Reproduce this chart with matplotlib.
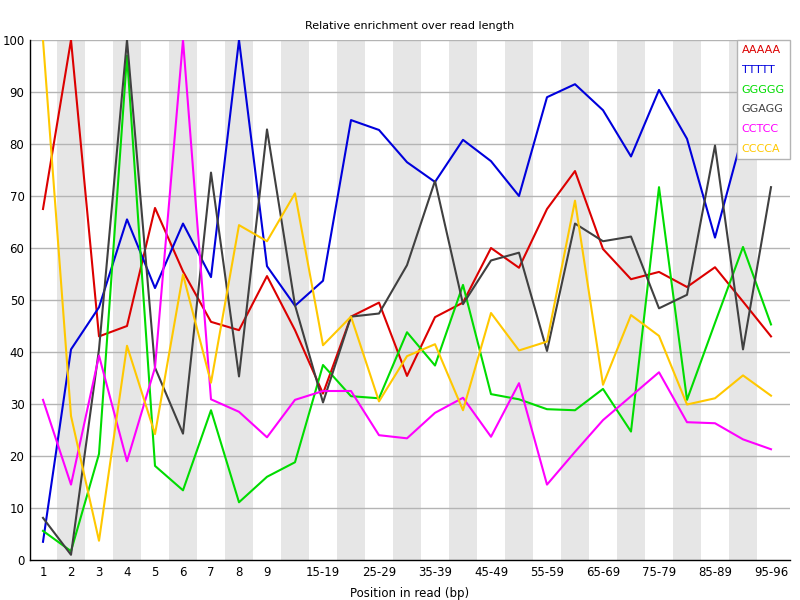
import numpy as np
import matplotlib
matplotlib.use('agg')
import matplotlib.pyplot as plt

#x categories (position in read)
positions = ['1', '2', '3', '4', '5', '6', '7', '8', '9',
	'10-14', '15-19', '20-24', '25-29', '30-34', '35-39', '40-44', '45-49',
	'50-54', '55-59', '60-64', '65-69', '70-74', '75-79', '80-84', '85-89',
	'90-94', '95-96']

#relative enrichment for each kmer
aaaaa = [67.5, 100, 43.0, 45.0, 67.7, 55.5, 45.8, 44.2, 54.6, 44.2, 32.0, 46.8, 49.5, 35.4,
	46.7, 49.5, 60.0, 56.2, 67.5, 74.8, 59.8, 54.0, 55.4, 52.5, 56.3, 49.7, 43.0]
ttttt = [3.5, 40.5, 48.6, 65.5, 52.3, 64.7, 54.4, 100, 56.5, 48.9, 53.7, 84.6, 82.7, 76.5,
	72.7, 80.8, 76.7, 70.0, 89.0, 91.5, 86.5, 77.6, 90.4, 81.0, 62.0, 82.0, 85.0]
ggggg = [5.6, 1.7, 20.4, 97.0, 18.1, 13.4, 28.8, 11.1, 16.0, 18.8, 37.5, 31.5, 31.1, 43.8,
	37.4, 52.9, 31.9, 30.9, 29.0, 28.8, 32.9, 24.7, 71.7, 30.8, 45.6, 60.2, 45.3]
ggagg = [8.1, 1.0, 40.5, 100, 37.0, 24.3, 74.5, 35.3, 82.8, 49.0, 30.3, 46.8, 47.4, 56.7,
	72.9, 49.2, 57.6, 59.1, 40.2, 64.7, 61.3, 62.2, 48.4, 51.0, 79.7, 40.5, 71.7]
cctcc = [30.8, 14.5, 39.3, 19.0, 37.0, 100, 30.9, 28.5, 23.6, 30.8, 32.5, 32.5, 24.0, 23.4,
	28.3, 31.2, 23.7, 34.0, 14.5, 20.8, 26.9, 31.5, 36.1, 26.5, 26.3, 23.2, 21.3]
cccca = [100, 27.7, 3.7, 41.2, 24.2, 54.9, 34.1, 64.4, 61.3, 70.5, 41.3, 46.8, 30.5, 39.2,
	41.5, 28.8, 47.5, 40.3, 42.0, 69.1, 33.7, 47.1, 43.1, 29.9, 31.1, 35.5, 31.6]

kmers = ['AAAAA', 'TTTTT', 'GGGGG', 'GGAGG', 'CCTCC', 'CCCCA']
series = [aaaaa, ttttt, ggggg, ggagg, cctcc, cccca]
colours = ['#dc0000', '#0000dc', '#00dc00', '#404040', '#ff00ff', '#ffc800']

plt.rcParams['font.family'] = 'DejaVu Sans'
plt.rcParams['font.size'] = 8

fig = plt.figure(figsize=(8, 6), dpi=100)
ax = fig.add_axes([30 / 800, 40 / 600, 760 / 800, 520 / 600])

x = np.arange(len(positions))

#alternating grey bands behind every other category
for i in range(1, len(positions), 2):
	ax.axvspan(i - 0.5, i + 0.5, color='#e6e6e6', lw=0, zorder=0)

#horizontal grid
for v in range(10, 101, 10):
	ax.axhline(v, color='#b4b4b4', lw=1, zorder=1)

for vals, col, name in zip(series, colours, kmers):
	ax.plot(x, vals, color=col, lw=1.5, label=name, zorder=3)

ax.set_xlim(-13 / 28, 26 + 19 / 28)
ax.set_ylim(0, 100)
ax.set_yticks(range(0, 101, 10))

#only label every other range so the labels don't overlap
ax.set_xticks(x)
xlabels = [p if (i < 9 or i % 2 == 0) else '' for i, p in enumerate(positions)]
ax.set_xticklabels(xlabels)
ax.tick_params(length=0, pad=4, labelsize=8.5)

for side in ['top', 'right']:
	ax.spines[side].set_visible(False)
ax.spines['left'].set_linewidth(1)
ax.spines['bottom'].set_linewidth(1)
ax.spines['left'].set_zorder(4)
ax.spines['bottom'].set_zorder(4)

ax.set_title('Relative enrichment over read length', fontsize=8, pad=8)
ax.set_xlabel('Position in read (bp)', fontsize=8.5, labelpad=6)

#legend is just coloured names in a box, no line samples
leg = ax.legend(loc='upper right', borderaxespad=0, handlelength=0, handletextpad=0,
	fancybox=False, framealpha=1, edgecolor='#b4b4b4', labelcolor='linecolor',
	fontsize=8, labelspacing=0.88, borderpad=0.45)
leg.get_frame().set_linewidth(1)
leg.set_zorder(5)
for h in leg.legend_handles:
	h.set_visible(False)

plt.savefig('out.png', dpi=100)
